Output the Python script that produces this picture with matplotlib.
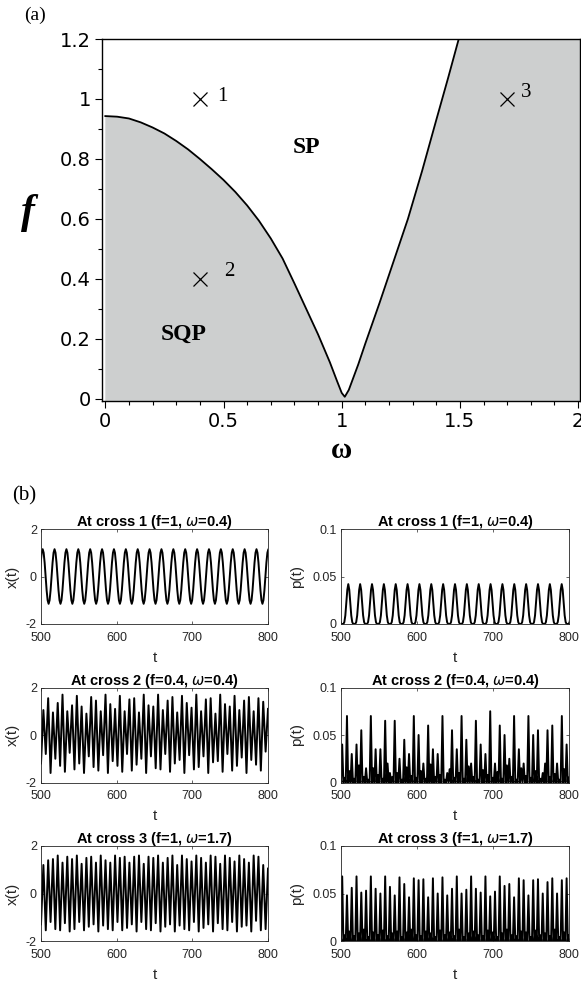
import numpy as np
import matplotlib.pyplot as plt

plt.rcParams['axes.unicode_minus'] = False

# ---- panel (a): phase diagram in the (omega, f) plane ----
omega_b = [0.0, 0.05, 0.1, 0.15, 0.2, 0.25, 0.3, 0.35, 0.4, 0.45, 0.5, 0.55, 0.6, 0.65,
           0.7, 0.75, 0.8, 0.85, 0.9, 0.95, 0.98, 1.0, 1.013, 1.03, 1.07, 1.1, 1.16,
           1.22, 1.28, 1.34, 1.40, 1.45, 1.495]
f_b = [0.943, 0.941, 0.935, 0.922, 0.905, 0.885, 0.86, 0.832, 0.80, 0.766, 0.73, 0.69,
       0.645, 0.594, 0.535, 0.468, 0.385, 0.30, 0.215, 0.122, 0.06, 0.02, 0.007, 0.03,
       0.115, 0.185, 0.32, 0.46, 0.60, 0.76, 0.93, 1.07, 1.2]

cross_omega = [0.4, 0.4, 1.7]
cross_f = [1.0, 0.4, 1.0]
cross_names = ['1', '2', '3']

# ---- panel (b): time series at the three crosses ----
t_lim = (500, 800)

# cross 1 is strictly periodic: one period, repeated
x1_first_peak = 502.2
x1_period = 15.7
x1_cycle = [1.15, 1.0, 0.58, 0.0, -0.58, -1.0, -1.15, -1.0, -0.58, 0.0, 0.58, 1.0]
p1_first_peak = 509.6
p1_period = 15.6
p1_cycle = [0.042, 0.036, 0.022, 0.009, 0.002, 0.0, 0.0, 0.0, 0.002, 0.009, 0.022, 0.036]

# cross 2: successive minima / maxima of x(t)
x2_min = [-1.2, -0.8, -1.6, -1.0, -1.3, -1.55, -0.75, -1.45, -1.2, -1.6, -0.9, -1.35,
          -1.5, -0.85, -1.6, -1.1, -1.3, -1.55, -0.8, -1.5, -1.25, -1.0, -1.6, -0.9,
          -1.4, -1.45, -0.8, -1.55, -1.2, -1.05, -1.6, -0.85, -1.45, -1.35, -0.9, -1.6,
          -1.15, -1.1, -1.55, -0.8, -1.5, -1.3, -0.95, -1.6, -1.05, -1.25, -1.5, -0.7]
x2_max = [1.05, 1.55, 0.95, 1.35, 1.7, 1.0, 1.25, 1.65, 1.2, 0.9, 1.6, 1.45,
          1.0, 1.7, 1.3, 1.1, 1.65, 1.0, 1.5, 1.55, 0.95, 1.7, 1.25, 1.2,
          1.7, 1.05, 1.45, 1.6, 0.95, 1.65, 1.35, 1.15, 1.7, 1.0, 1.5, 1.55,
          0.9, 1.7, 1.3, 1.2, 1.65, 1.05, 1.45, 1.6, 1.0, 1.55, 1.4, 1.1]
# cross 2: big and small spikes of p(t)
p2_big = [0.04, 0.07, 0.03, 0.04, 0.055, 0.015, 0.07, 0.035, 0.035, 0.065, 0.01, 0.065,
          0.025, 0.045, 0.03, 0.07, 0.05, 0.02, 0.06, 0.035, 0.03, 0.07, 0.01, 0.055,
          0.035, 0.07, 0.045, 0.02, 0.065, 0.04, 0.03, 0.075, 0.02, 0.06, 0.05, 0.025,
          0.07, 0.035, 0.02, 0.07, 0.05, 0.055, 0.01, 0.055, 0.06, 0.02, 0.07, 0.04]
p2_small = [0.005, 0.012, 0.004, 0.018, 0.006, 0.003, 0.015, 0.008, 0.004, 0.02, 0.006, 0.01,
            0.003, 0.016, 0.007, 0.005, 0.012, 0.004, 0.019, 0.006, 0.008, 0.003, 0.014, 0.005,
            0.01, 0.004, 0.017, 0.006, 0.003, 0.013, 0.008, 0.005, 0.011, 0.004, 0.018, 0.006,
            0.003, 0.015, 0.007, 0.005, 0.012, 0.004, 0.02, 0.006, 0.009, 0.003, 0.014, 0.005]

# cross 3: successive minima / maxima of x(t)
x3_min = [-1.3, -1.55, -1.2, -1.5, -1.55, -1.25, -1.6, -1.5, -1.2, -1.55, -1.4, -1.3,
          -1.6, -1.35, -1.5, -1.55, -1.2, -1.55, -1.45, -1.3, -1.6, -1.2, -1.5, -1.55,
          -1.25, -1.6, -1.4, -1.3, -1.6, -1.35, -1.5, -1.55, -1.2, -1.6, -1.45, -1.3,
          -1.6, -1.25, -1.5, -1.55, -1.2, -1.6, -1.4, -1.35, -1.6, -1.15, -1.55, -1.5]
x3_max = [1.2, 1.4, 1.45, 1.6, 1.3, 1.55, 1.45, 1.6, 1.25, 1.5, 1.55, 1.3,
          1.6, 1.4, 1.3, 1.6, 1.5, 1.55, 1.3, 1.55, 1.6, 1.25, 1.55, 1.5,
          1.6, 1.3, 1.5, 1.6, 1.2, 1.6, 1.45, 1.35, 1.6, 1.5, 1.3, 1.6,
          1.55, 1.25, 1.6, 1.5, 1.35, 1.6, 1.45, 1.3, 1.6, 1.55, 1.2, 1.05]
# cross 3: big and small spikes of p(t)
p3_big = [0.068, 0.048, 0.056, 0.068, 0.051, 0.053, 0.068, 0.055, 0.05, 0.068, 0.057, 0.048,
          0.067, 0.06, 0.046, 0.066, 0.064, 0.065, 0.046, 0.066, 0.05, 0.067, 0.048, 0.055,
          0.068, 0.05, 0.054, 0.068, 0.055, 0.051, 0.068, 0.047, 0.052, 0.068, 0.058, 0.06,
          0.046, 0.066, 0.064, 0.048, 0.064, 0.065, 0.05, 0.062, 0.066, 0.05, 0.064, 0.066]
p3_small = [0.006, 0.01, 0.005, 0.008, 0.012, 0.004, 0.009, 0.006, 0.011, 0.005, 0.008, 0.01,
            0.004, 0.009, 0.012, 0.006, 0.005, 0.01, 0.008, 0.004, 0.011, 0.006, 0.009, 0.005,
            0.012, 0.004, 0.008, 0.01, 0.006, 0.005, 0.011, 0.009, 0.004, 0.008, 0.012, 0.006,
            0.005, 0.01, 0.009, 0.004, 0.011, 0.006, 0.008, 0.005, 0.012, 0.004, 0.009, 0.006]

titles = [r'At cross 1 (f=1, $\omega$=0.4)',
          r'At cross 2 (f=0.4, $\omega$=0.4)',
          r'At cross 3 (f=1, $\omega$=1.7)']


def periodic(first_peak, period, cycle):
    n = int(np.ceil((t_lim[1] - t_lim[0]) / period)) + 2
    vals = np.tile(cycle, n)
    t = first_peak - period + np.arange(len(vals)) * period / len(cycle)
    return t, vals


def turning_points(*columns):
    seq = np.ravel(np.column_stack(columns))
    return np.linspace(t_lim[0], t_lim[1], len(seq)), seq


fig = plt.figure(figsize=(5.81, 9.83), dpi=100)

# ---------------- (a) ----------------
ax = fig.add_axes([102 / 581, 1 - 401 / 983, 478 / 581, 362 / 983])
poly_x = np.r_[0.0, omega_b, 2.1, 2.1]
poly_y = np.r_[-0.1, f_b, 1.2, -0.1]
ax.fill(poly_x, poly_y, color='#cdcfcf', lw=0, zorder=1)
ax.plot(omega_b, f_b, color='black', lw=1.3, zorder=2)
ax.plot(cross_omega, cross_f, 'x', color='black', ms=10, mew=0.9, zorder=3)
name_offsets = [(16, 2), (21, 5), (14, 5)]
for w, f, name, off in zip(cross_omega, cross_f, cross_names, name_offsets):
    ax.annotate(name, (w, f), xytext=off, textcoords='offset points',
                ha='center', va='center', fontsize=15, family='Liberation Serif')
ax.text(0.85, 0.837, 'SP', ha='center', va='center', fontsize=17,
        fontweight='bold', family='Liberation Serif')
ax.text(0.33, 0.215, 'SQP', ha='center', va='center', fontsize=17,
        fontweight='bold', family='Liberation Serif')

ax.set_xlim(-0.014, 2.008)
ax.set_ylim(-0.007, 1.2)
ax.set_xticks([0, 0.5, 1, 1.5, 2])
ax.set_xticklabels(['0', '0.5', '1', '1.5', '2'])
ax.set_yticks([0, 0.2, 0.4, 0.6, 0.8, 1, 1.2])
ax.set_yticklabels(['0', '0.2', '0.4', '0.6', '0.8', '1', '1.2'])
ax.set_xticks(np.arange(0, 2.01, 0.1), minor=True)
ax.set_yticks(np.arange(0, 1.21, 0.1), minor=True)
ax.tick_params(which='both', direction='out', top=False, right=False, width=0.8)
ax.tick_params(which='major', length=5, labelsize=14, pad=3)
ax.tick_params(which='minor', length=3)
for lab in ax.get_xticklabels() + ax.get_yticklabels():
    lab.set_family('DejaVu Sans')
for s in ax.spines.values():
    s.set_linewidth(1.0)
ax.set_xlabel(r'ω', fontsize=21, fontweight='bold', family='Liberation Serif', labelpad=4)
ax.set_ylabel('f', fontsize=30, fontweight='bold', style='italic',
              family='Liberation Serif', rotation=0, va='center')
ax.yaxis.set_label_coords(-0.155, 0.52)

fig.text(35 / 581, 1 - 15 / 983, '(a)', ha='center', va='center', fontsize=14,
         family='Liberation Serif')
fig.text(24 / 581, 1 - 496 / 983, '(b)', ha='center', va='center', fontsize=15,
         family='Liberation Serif')

# ---------------- (b) ----------------
series_x = [periodic(x1_first_peak, x1_period, x1_cycle),
            turning_points(x2_min, x2_max),
            turning_points(x3_min, x3_max)]
zeros = np.zeros(48)
series_p = [periodic(p1_first_peak, p1_period, p1_cycle),
            turning_points(zeros, p2_big, zeros, p2_small),
            turning_points(zeros, p3_big, zeros, p3_small)]

row_bottoms = [1 - 624 / 983, 1 - 782.5 / 983, 1 - 941 / 983]
h = 95 / 983
grey = '#262626'
for r in range(3):
    for c in range(2):
        if c == 0:
            ax = fig.add_axes([41 / 581, row_bottoms[r], 227 / 581, h])
            t, v = series_x[r]
            ax.set_ylim(-2, 2)
            ax.set_yticks([-2, 0, 2])
            ax.set_ylabel('x(t)', fontsize=11, family='Liberation Sans', color=grey)
            ax.yaxis.set_label_coords(-0.095, 0.5)
        else:
            ax = fig.add_axes([341 / 581, row_bottoms[r], 228 / 581, h])
            t, v = series_p[r]
            ax.set_ylim(0, 0.1)
            ax.set_yticks([0, 0.05, 0.1])
            ax.set_yticklabels(['0', '0.05', '0.1'])
            ax.set_ylabel('p(t)', fontsize=11, family='Liberation Sans', color=grey)
            ax.yaxis.set_label_coords(-0.16, 0.5)
        ax.plot(t, v, color='black', lw=1.4)
        ax.set_xlim(*t_lim)
        ax.set_xticks([500, 600, 700, 800])
        ax.tick_params(direction='in', top=True, right=True, length=2.5, width=0.5,
                       labelsize=9, labelcolor=grey, color=grey)
        ax.tick_params(axis='x', pad=5.5)
        ax.tick_params(axis='y', pad=3)
        for lab in ax.get_xticklabels() + ax.get_yticklabels():
            lab.set_family('Liberation Sans')
        for s in ax.spines.values():
            s.set_linewidth(0.6)
            s.set_color(grey)
        ax.set_xlabel('t', fontsize=11, family='Liberation Sans', color=grey)
        ax.xaxis.set_label_coords(0.5, -0.28)
        ax.set_title(titles[r], fontsize=10.5, fontweight='bold', family='Liberation Sans',
                     pad=2)

fig.savefig('out.png', dpi=100)
